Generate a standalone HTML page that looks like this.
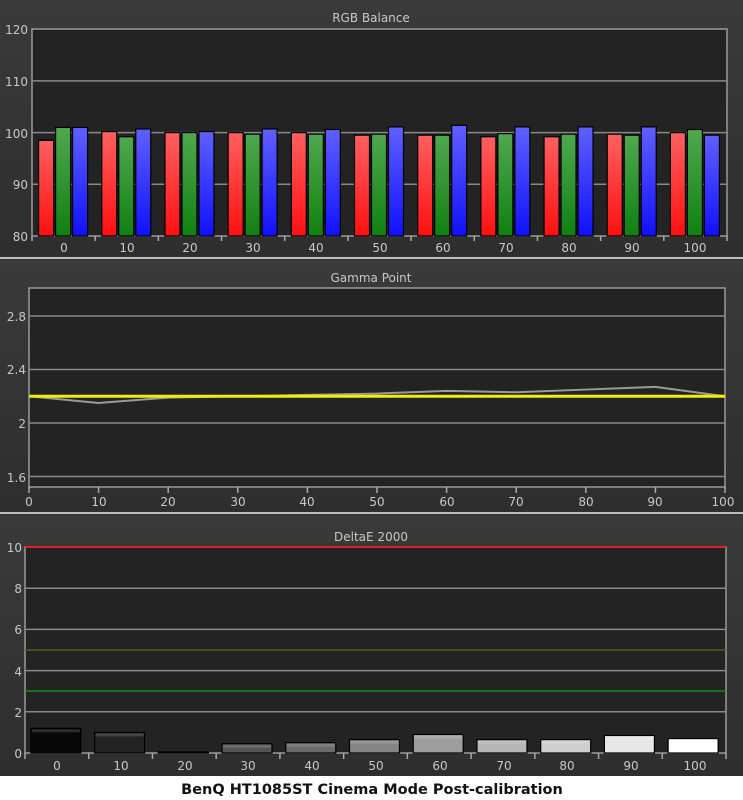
<!DOCTYPE html>
<html><head><meta charset="utf-8"><style>
html,body{margin:0;padding:0;background:#fff;width:743px;height:800px;overflow:hidden}
svg{display:block}
text{font-family:"DejaVu Sans","Liberation Sans",sans-serif;font-size:12px;fill:#c8c8c8}
</style></head><body>
<svg id="s" width="743" height="800" xmlns="http://www.w3.org/2000/svg">
<defs>
<linearGradient id="bg" x1="0" y1="0" x2="0" y2="1"><stop offset="0" stop-color="#3a3a3a"/><stop offset="1" stop-color="#2e2e2e"/></linearGradient>
<linearGradient id="gr" x1="0" y1="0" x2="0" y2="1"><stop offset="0" stop-color="#ff6060"/><stop offset="1" stop-color="#ff1010"/></linearGradient>
<linearGradient id="gg" x1="0" y1="0" x2="0" y2="1"><stop offset="0" stop-color="#50a850"/><stop offset="1" stop-color="#108010"/></linearGradient>
<linearGradient id="gb" x1="0" y1="0" x2="0" y2="1"><stop offset="0" stop-color="#6060ff"/><stop offset="1" stop-color="#1010ff"/></linearGradient>
</defs>
<rect x="0" y="0" width="743" height="776" fill="#333"/>
<rect x="0" y="0" width="743" height="257" fill="url(#bg)"/>
<rect x="0" y="260" width="743" height="252" fill="url(#bg)"/>
<rect x="0" y="515" width="743" height="261" fill="url(#bg)"/>
<rect x="0" y="257" width="743" height="2" fill="#bdbdbd"/>
<rect x="0" y="512" width="743" height="2" fill="#bdbdbd"/>
<rect x="0" y="776" width="743" height="24" fill="#fff"/>
<!-- plot areas -->
<rect x="32" y="29" width="695" height="207" fill="#232323" stroke="#9a9a9a" stroke-width="1.5"/>
<rect x="29" y="288" width="696" height="199" fill="#232323" stroke="#9a9a9a" stroke-width="1.5"/>
<rect x="25" y="547" width="701" height="206" fill="#232323" stroke="#9a9a9a" stroke-width="1.5"/>
<g id="g"></g>
<text x="371" y="22" text-anchor="middle">RGB Balance</text>
<text x="371" y="282" text-anchor="middle">Gamma Point</text>
<text x="371" y="541" text-anchor="middle">DeltaE 2000</text>
<g text-anchor="end">
<text x="28" y="34">120</text><text x="28" y="86">110</text><text x="28" y="138">100</text><text x="28" y="189">90</text><text x="28" y="241">80</text>
<text x="26" y="321">2.8</text><text x="26" y="374">2.4</text><text x="26" y="428">2</text><text x="26" y="482">1.6</text>
<text x="22" y="552">10</text><text x="22" y="593">8</text><text x="22" y="634">6</text><text x="22" y="676">4</text><text x="22" y="717">2</text><text x="22" y="758">0</text>
</g>
<g text-anchor="middle">
<text x="64" y="252">0</text><text x="127" y="252">10</text><text x="190" y="252">20</text><text x="253" y="252">30</text><text x="316" y="252">40</text><text x="380" y="252">50</text><text x="443" y="252">60</text><text x="506" y="252">70</text><text x="569" y="252">80</text><text x="632" y="252">90</text><text x="695" y="252">100</text>
<text x="29" y="506">0</text><text x="99" y="506">10</text><text x="168" y="506">20</text><text x="238" y="506">30</text><text x="307" y="506">40</text><text x="377" y="506">50</text><text x="447" y="506">60</text><text x="516" y="506">70</text><text x="586" y="506">80</text><text x="655" y="506">90</text><text x="723" y="506">100</text>
<text x="57" y="770">0</text><text x="121" y="770">10</text><text x="185" y="770">20</text><text x="248" y="770">30</text><text x="312" y="770">40</text><text x="376" y="770">50</text><text x="440" y="770">60</text><text x="504" y="770">70</text><text x="567" y="770">80</text><text x="631" y="770">90</text><text x="695" y="770">100</text>
</g>
<text x="372" y="794" text-anchor="middle" style="font-family:'DejaVu Sans',sans-serif;font-weight:bold;font-size:14.5px;fill:#111">BenQ HT1085ST Cinema Mode Post-calibration</text>
</svg>
<script>
var g=document.getElementById('g'),N='http://www.w3.org/2000/svg';
function el(t,a){var e=document.createElementNS(N,t);for(var k in a)e.setAttribute(k,a[k]);g.appendChild(e);return e;}
// RGB grid
[110,100,90].forEach(function(v){var y=236-(v-80)*5.17;el('line',{x1:32,x2:727,y1:y,y2:y,stroke:'#8a8a8a','stroke-width':1.5});});
var rgb=[[98.5,101,101],[100.2,99.2,100.7],[100,100,100.2],[100,99.7,100.7],[100,99.7,100.6],[99.5,99.7,101.1],[99.5,99.5,101.4],[99.2,99.8,101.1],[99.2,99.7,101.1],[99.7,99.5,101.1],[100,100.6,99.5]];
var W=695/11;
rgb.forEach(function(v,i){var c=32+W*(i+.5);var off=[-25,-8,9],f=['url(#gr)','url(#gg)','url(#gb)'];
for(var j=0;j<3;j++){var y=236-(v[j]-80)*5.17;el('rect',{x:c+off[j],y:y,width:15,height:236-y,fill:f[j],stroke:'#000','stroke-width':1.2});}
});
for(var i=0;i<=11;i++){var x=32+W*i;el('line',{x1:x,x2:x,y1:236,y2:241,stroke:'#aaa','stroke-width':1.5});}
// gamma
[2.8,2.4,2.0,1.6].forEach(function(v){var y=423-(v-2)*133.75;el('line',{x1:29,x2:725,y1:y,y2:y,stroke:'#8a8a8a','stroke-width':1.5});});
var gm=[2.2,2.15,2.19,2.2,2.21,2.22,2.24,2.23,2.25,2.27,2.2],p='';
gm.forEach(function(v,i){p+=(29+69.6*i)+','+(423-(v-2)*133.75)+' ';});
el('polyline',{points:p,fill:'none',stroke:'#9a9a9a','stroke-width':2});
var yy=423-0.2*133.75;el('line',{x1:29,x2:725,y1:yy,y2:yy,stroke:'#f0f000','stroke-width':3});
for(var i=0;i<=10;i++){var x=29+69.6*i;el('line',{x1:x,x2:x,y1:487,y2:493,stroke:'#aaa','stroke-width':1.5});}
// deltaE
[8,6,4,2].forEach(function(v){var y=753-v*20.6;el('line',{x1:25,x2:726,y1:y,y2:y,stroke:'#8a8a8a','stroke-width':1.5});});
el('line',{x1:25,x2:726,y1:650,y2:650,stroke:'#5a5a20','stroke-width':1.5});
el('line',{x1:25,x2:726,y1:691,y2:691,stroke:'#109010','stroke-width':1.5});
el('line',{x1:25,x2:726,y1:547,y2:547,stroke:'#e02020','stroke-width':2});
var de=[1.2,1.0,0.05,0.45,0.5,0.65,0.9,0.65,0.65,0.85,0.7],D=701/11;
de.forEach(function(v,i){var c=25+D*(i+.5),y=753-v*20.6,l=Math.round(10+i*24.5);if(i==0)l=8;
var col='rgb('+l+','+l+','+l+')';
el('rect',{x:c-26,y:y,width:50,height:753-y,fill:col,stroke:'#000','stroke-width':1.2});
if(v>0.3)el('rect',{x:c-25,y:y+1,width:48,height:3,fill:'rgba(255,255,255,0.15)'});});
for(var i=0;i<=11;i++){var x=25+D*i;el('line',{x1:x,x2:x,y1:753,y2:759,stroke:'#aaa','stroke-width':1.5});}
</script>
</body></html>
